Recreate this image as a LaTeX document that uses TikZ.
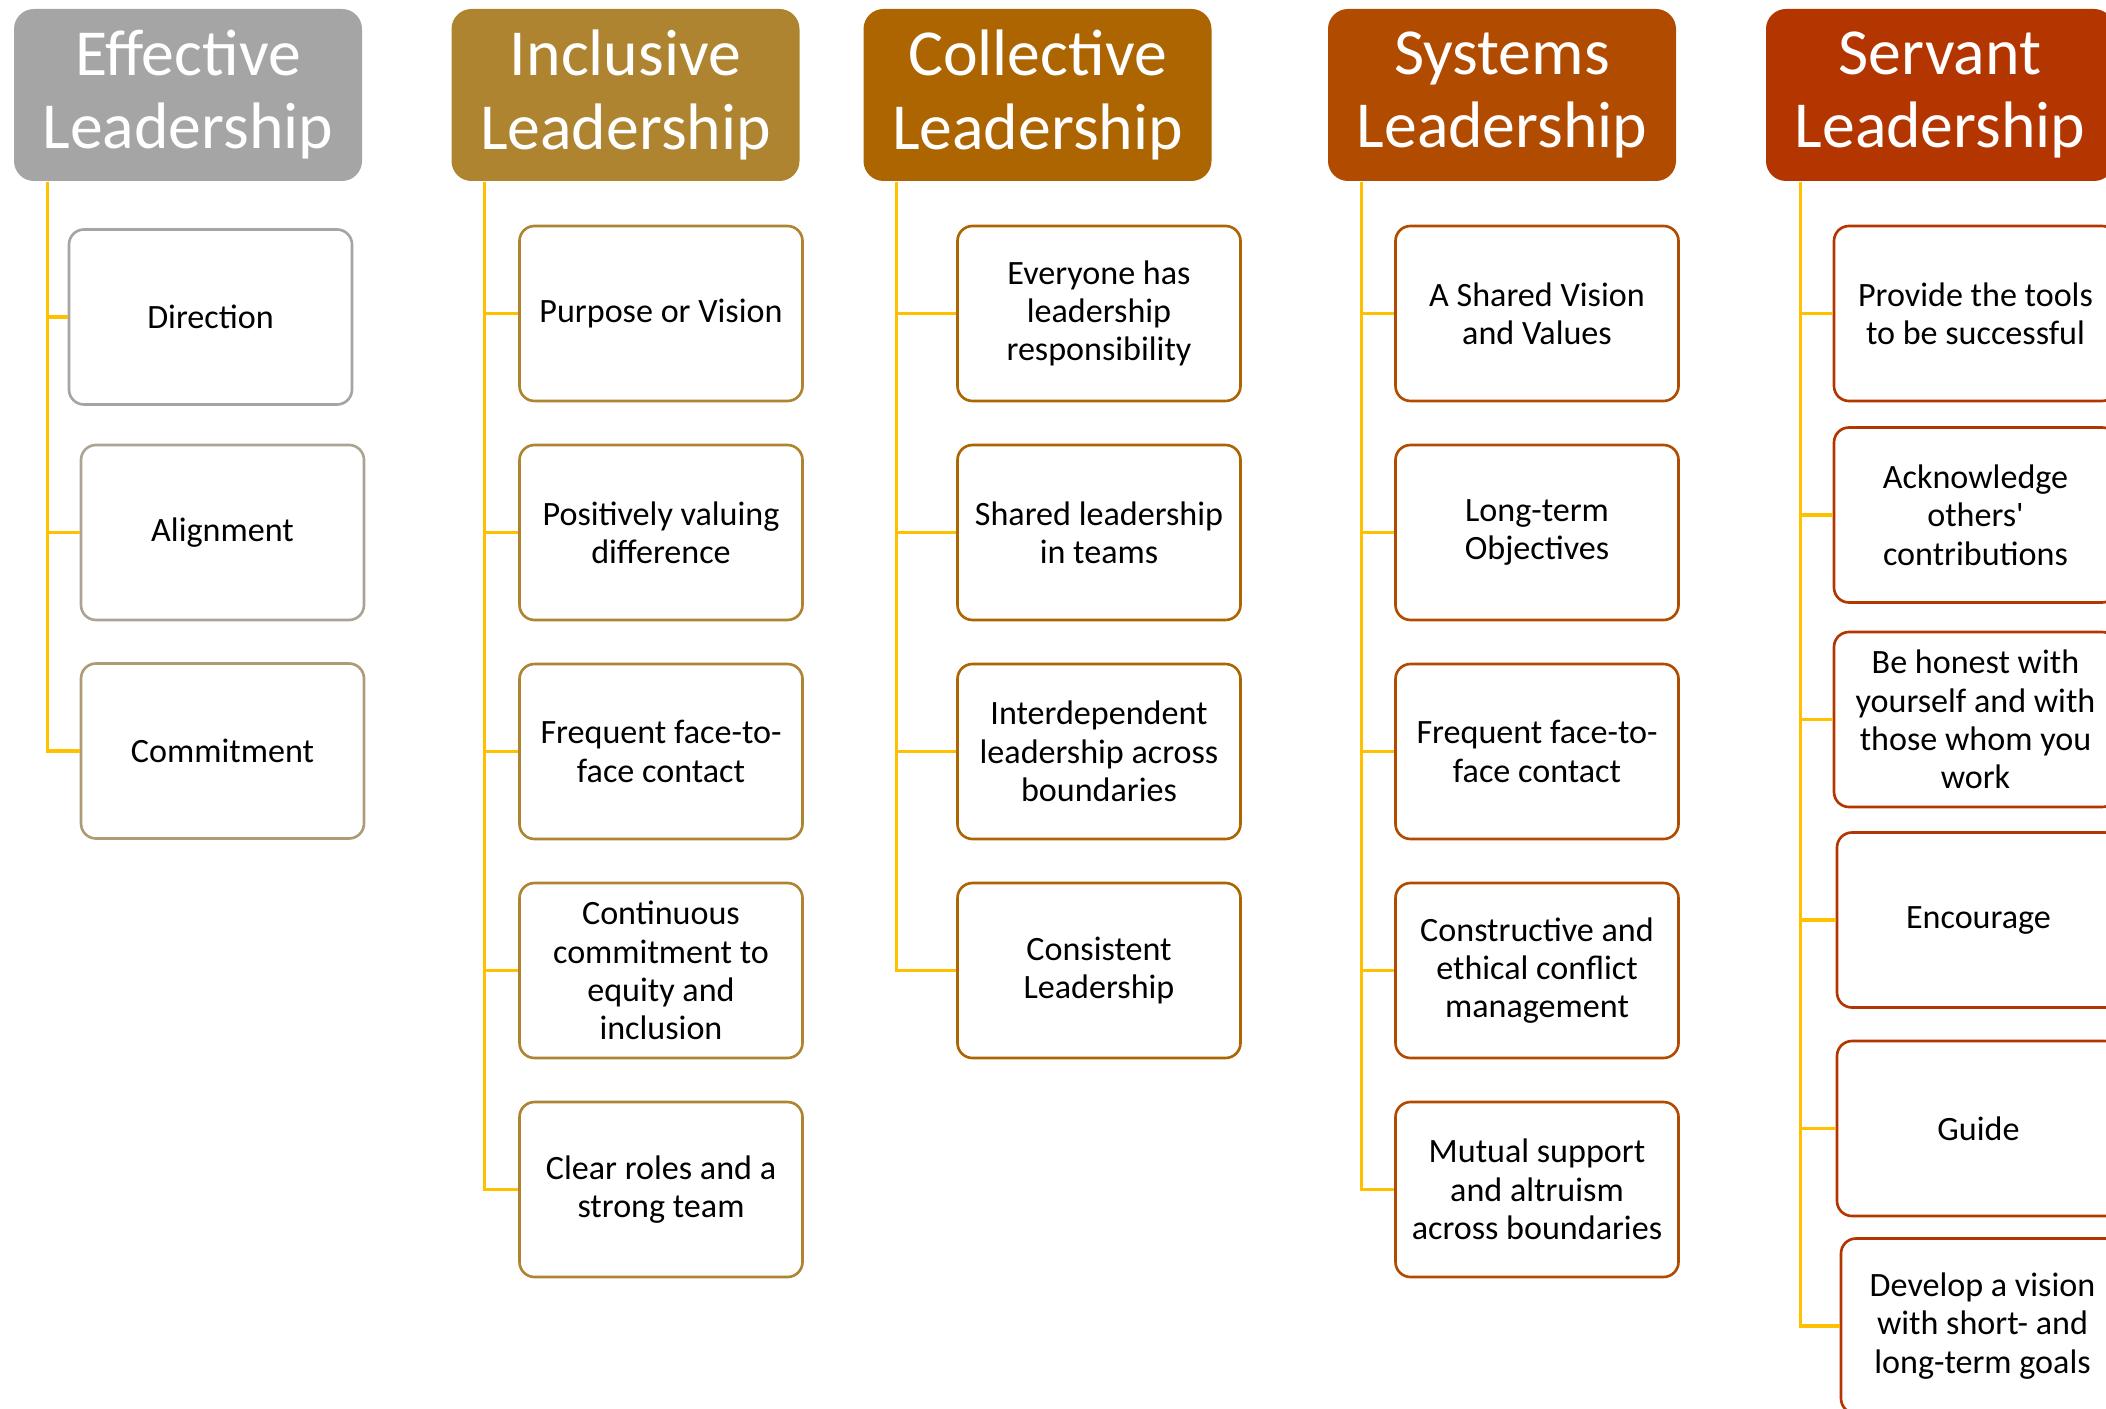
\documentclass[tikz,border=0pt]{standalone}
\usepackage{fontspec}
\setmainfont{Carlito}
\usetikzlibrary{positioning,calc}

\definecolor{effgray}{HTML}{A5A5A5}
\definecolor{effgrayb}{HTML}{ACA394}
\definecolor{effgrayc}{HTML}{AE9A75}
\definecolor{incgold}{HTML}{AE8431}
\definecolor{colbrown}{HTML}{AC6500}
\definecolor{sysrust}{HTML}{B14B00}
\definecolor{srvred}{HTML}{B33600}
\definecolor{linkyellow}{HTML}{FFC000}

\begin{document}
\begin{tikzpicture}[
  x=1cm, y=1cm,
  head/.style={rounded corners=0.2cm, minimum width=3.48cm, minimum height=1.72cm, align=center, inner sep=0pt,
    text=white, font=\fontsize{18.7}{20.8}\selectfont},
  item/.style={draw, rounded corners=0.15cm, minimum width=2.83cm, minimum height=1.75cm, align=center, inner sep=0pt,
    fill=white, line width=0.75pt, font=\fontsize{9.7}{10.9}\selectfont},
  link/.style={draw=linkyellow, line width=0.95pt}
]
\useasboundingbox (0,0) rectangle (21.06,-14.09);

% column headers
\node[head, fill=effgray]  (eff) at (1.88, -0.95)  {Effective\\Leadership};
\node[head, fill=incgold]  (inc) at (6.255, -0.95) {Inclusive\\Leadership};
\node[head, fill=colbrown] (col) at (10.375, -0.95) {Collective\\Leadership};
\node[head, fill=sysrust]  (sys) at (15.02, -0.95) {Systems\\Leadership};
\node[head, fill=srvred]   (srv) at (19.40, -0.95) {Servant\\Leadership};

% trunk tops
\coordinate (effT) at ($(eff.south west)+(0.34,0)$);
\coordinate (incT) at ($(inc.south west)+(0.34,0)$);
\coordinate (colT) at ($(col.south west)+(0.34,0)$);
\coordinate (sysT) at ($(sys.south west)+(0.34,0)$);
\coordinate (srvT) at ($(srv.south west)+(0.35,0)$);

% effective
\node[item, draw=effgray]  (eff1) at (2.105, -3.17) {Direction};
\node[item, draw=effgrayb] (eff2) at (2.225, -5.325) {Alignment};
\node[item, draw=effgrayc] (eff3) at (2.225, -7.51) {Commitment};

% inclusive
\node[item, draw=incgold] (inc1) at (6.61, -3.135) {Purpose or Vision};
\node[item, draw=incgold] (inc2) at (6.61, -5.325) {Positively valuing\\difference};
\node[item, draw=incgold] (inc3) at (6.61, -7.515) {Frequent face-to-\\face contact};
\node[item, draw=incgold] (inc4) at (6.61, -9.705) {Continuous\\commitment to\\equity and\\inclusion};
\node[item, draw=incgold] (inc5) at (6.61, -11.895) {Clear roles and a\\strong team};

% collective
\node[item, draw=colbrown] (col1) at (10.99, -3.135) {Everyone has\\leadership\\responsibility};
\node[item, draw=colbrown] (col2) at (10.99, -5.325) {Shared leadership\\in teams};
\node[item, draw=colbrown] (col3) at (10.99, -7.515) {Interdependent\\leadership across\\boundaries};
\node[item, draw=colbrown] (col4) at (10.99, -9.705) {Consistent\\Leadership};

% systems
\node[item, draw=sysrust] (sys1) at (15.37, -3.135) {A Shared Vision\\and Values};
\node[item, draw=sysrust] (sys2) at (15.37, -5.325) {Long-term\\Objectives};
\node[item, draw=sysrust] (sys3) at (15.37, -7.515) {Frequent face-to-\\face contact};
\node[item, draw=sysrust] (sys4) at (15.37, -9.705) {Constructive and\\ethical conflict\\management};
\node[item, draw=sysrust] (sys5) at (15.37, -11.895) {Mutual support\\and altruism\\across boundaries};

% servant
\node[item, draw=srvred] (srv1) at (19.755, -3.135) {Provide the tools\\to be successful};
\node[item, draw=srvred] (srv2) at (19.755, -5.15) {Acknowledge\\others\textquotesingle\\contributions};
\node[item, draw=srvred] (srv3) at (19.755, -7.195) {Be honest with\\yourself and with\\those whom you\\work};
\node[item, draw=srvred] (srv4) at (19.785, -9.20) {Encourage};
\node[item, draw=srvred] (srv5) at (19.785, -11.285) {Guide};
\node[item, draw=srvred] (srv6) at (19.825, -13.26) {Develop a vision\\with short- and\\long-term goals};

\draw[link] (effT) |- (eff1.west);
\draw[link] (effT) |- (eff2.west);
\draw[link] (effT) |- (eff3.west);

\draw[link] (incT) |- (inc1.west);
\draw[link] (incT) |- (inc2.west);
\draw[link] (incT) |- (inc3.west);
\draw[link] (incT) |- (inc4.west);
\draw[link] (incT) |- (inc5.west);

\draw[link] (colT) |- (col1.west);
\draw[link] (colT) |- (col2.west);
\draw[link] (colT) |- (col3.west);
\draw[link] (colT) |- (col4.west);

\draw[link] (sysT) |- (sys1.west);
\draw[link] (sysT) |- (sys2.west);
\draw[link] (sysT) |- (sys3.west);
\draw[link] (sysT) |- (sys4.west);
\draw[link] (sysT) |- (sys5.west);

\draw[link] (srvT) |- (srv1.west);
\draw[link] (srvT) |- (srv2.west);
\draw[link] (srvT) |- (srv3.west);
\draw[link] (srvT) |- (srv4.west);
\draw[link] (srvT) |- (srv5.west);
\draw[link] (srvT) |- (srv6.west);
\end{tikzpicture}
\end{document}
